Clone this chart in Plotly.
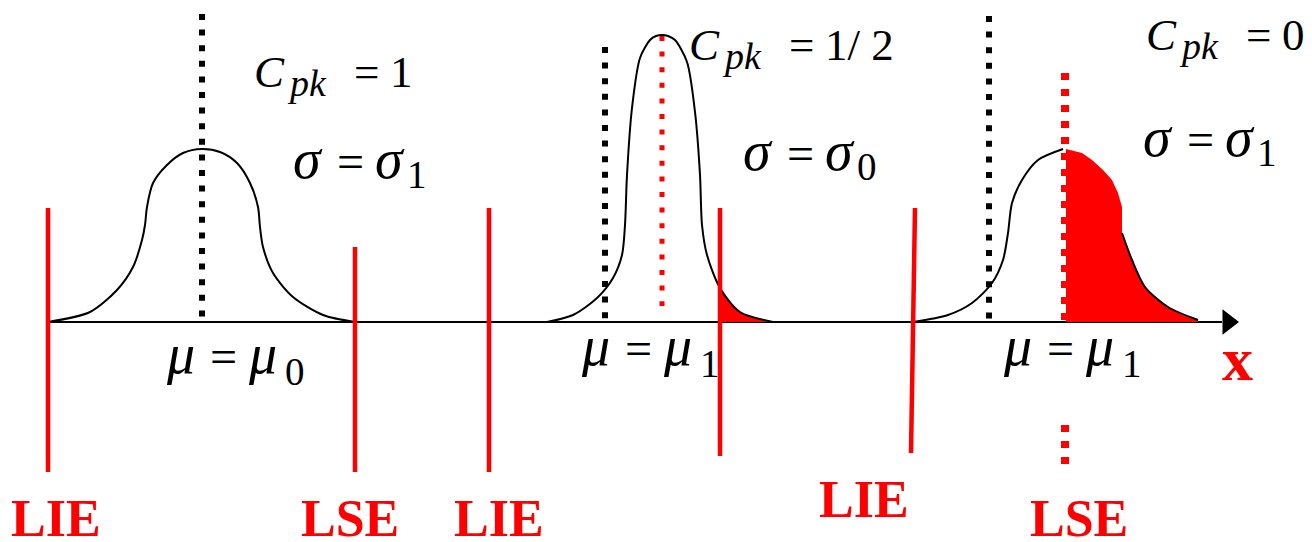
import plotly.graph_objects as go

# ---------------- data (in page units of the sketch) ----------------
AXIS_Y = 322
AXIS_X = [48, 1222]
ARROW_X = 1228

# curve 1 (mu = mu0, sigma = sigma1): offsets from centre / height above axis
C1_CENTER = 202
C1_DX = [-154, -112, -85, -69, -60, -57, -55, -49, -35, -19, 0, 18, 35, 48, 56, 58, 61, 71, 91, 121, 153]
C1_H = [0, 10, 32, 55, 82, 97, 115, 139, 157, 169, 173, 170, 159, 139, 115, 95, 75, 49, 25, 7, 0]

# curve 2 (mu = mu1, sigma = sigma0)
C2_CENTER = 662
C2_DX = [-115, -89, -65, -49, -40, -37, -35, -30, -22, -12, -6, 0, 6, 13, 25, 33, 38, 40, 45, 58, 78, 111]
C2_H = [0, 7, 24, 44, 67, 97, 147, 214, 264, 282, 286, 287, 286, 282, 260, 210, 147, 97, 67, 34, 10, 0]
C2_FILL_FROM = 58

# curve 3 (mu = mu1, sigma = sigma1)
C3_CENTER = 1063
C3_DX_LEFT = [-150, -115, -91, -71, -60, -55, -51, -41, -25, 0]
C3_H_LEFT = [0, 7, 19, 39, 62, 89, 119, 142, 162, 173]
C3_DX_RIGHT = [59, 69, 82, 105, 135]
C3_H_RIGHT = [89, 62, 35, 15, 2]
C3_FILL_DX = [3, 19, 29, 40, 49, 55, 59, 59, 64, 69, 82, 95, 105, 120, 135]
C3_FILL_H = [173, 169, 162, 152, 142, 129, 115, 89, 74, 62, 35, 23, 15, 7, 2]

# specification limits (solid red)
SPEC_X_TOP = [48, 355, 489, 720, 915]
SPEC_X_BOT = [48, 355, 489, 720, 911]
SPEC_Y_TOP = [208, 247, 208, 208, 208]
SPEC_Y_BOT = [472, 472, 472, 456, 453]

# means (black dotted)
MEAN_X = [202, 605, 989]
MEAN_Y_TOP = [14, 47, 16]

# shifted mean in case 2 (red dotted)
RED_DOT_X = 662
RED_DOT_Y = [36, 306]

# LSE in case 3 (red dashed)
LSE3_X = 1065
LSE3_SEG1 = [73, 322]
LSE3_SEG2 = [425, 472]

# formula texts: symbol, subscript, right-hand symbol, value
FORMULA_SYM = ["C", "σ", "μ", "C", "σ", "μ", "C", "σ", "μ"]
FORMULA_SUB = ["pk", "1", "0", "pk", "0", "1", "pk", "1", "1"]
FORMULA_RHS_SYM = ["", "σ", "μ", "", "σ", "μ", "", "σ", "μ"]
FORMULA_VALUE = ["1", "", "", "1/ 2", "", "", "0", "", ""]

# formula layout: left x of the symbol, baseline
FORMULA_X = [253, 292, 165, 688, 742, 580, 1145, 1142, 1002]
FORMULA_BASE = [87, 178, 373, 60, 170, 365, 50, 156, 365]

RED_LABELS = ["x", "LIE", "LSE", "LIE", "LIE", "LSE"]
RED_X = [1237, 56, 350, 499, 864, 1079]
RED_BASE = [380, 536, 536, 536, 517, 536]
RED_SIZE = [62, 52, 52, 52, 52, 52]

RED = "#ff0000"
FONT = "Liberation Serif, Times New Roman, serif"

fig = go.Figure()

# axis
fig.add_trace(go.Scatter(x=AXIS_X, y=[AXIS_Y, AXIS_Y], mode="lines",
                         line=dict(color="black", width=2)))

# red filled tails
f2x = [C2_CENTER + d for d in C2_DX if d >= C2_FILL_FROM]
f2y = [AXIS_Y - h for d, h in zip(C2_DX, C2_H) if d >= C2_FILL_FROM]
fig.add_trace(go.Scatter(x=f2x + [f2x[-1], f2x[0]], y=f2y + [AXIS_Y, AXIS_Y],
                         mode="lines", fill="toself", fillcolor=RED,
                         line=dict(width=0, color=RED, shape="spline", smoothing=0.6)))
f3x = [C3_CENTER + d for d in C3_FILL_DX]
f3y = [AXIS_Y - h for h in C3_FILL_H]
fig.add_trace(go.Scatter(x=f3x + [f3x[-1], f3x[0]], y=f3y + [AXIS_Y, AXIS_Y],
                         mode="lines", fill="toself", fillcolor=RED,
                         line=dict(width=0, color=RED)))


def curve(center, dx, h):
    fig.add_trace(go.Scatter(x=[center + d for d in dx], y=[AXIS_Y - v for v in h],
                             mode="lines",
                             line=dict(color="black", width=2, shape="spline", smoothing=0.8)))


curve(C1_CENTER, C1_DX, C1_H)
curve(C2_CENTER, C2_DX, C2_H)
curve(C3_CENTER, C3_DX_LEFT, C3_H_LEFT)
curve(C3_CENTER, C3_DX_RIGHT, C3_H_RIGHT)

# black dotted mean lines
for mx, yt in zip(MEAN_X, MEAN_Y_TOP):
    fig.add_trace(go.Scatter(x=[mx, mx], y=[yt, AXIS_Y - 1], mode="lines",
                             line=dict(color="black", width=6, dash="6px,9.6px")))

# red dotted line (case 2)
fig.add_trace(go.Scatter(x=[RED_DOT_X, RED_DOT_X], y=RED_DOT_Y, mode="lines",
                         line=dict(color=RED, width=5, dash="5px,10.6px")))

# red dashed LSE (case 3)
for seg in (LSE3_SEG1, LSE3_SEG2):
    fig.add_trace(go.Scatter(x=[LSE3_X, LSE3_X], y=seg, mode="lines",
                             line=dict(color=RED, width=8, dash="7px,9px")))

# solid red spec lines
for xt, xb, yt, yb in zip(SPEC_X_TOP, SPEC_X_BOT, SPEC_Y_TOP, SPEC_Y_BOT):
    fig.add_trace(go.Scatter(x=[xt, xb], y=[yt, yb], mode="lines",
                             line=dict(color=RED, width=4.5)))

# arrow head
fig.add_trace(go.Scatter(x=[ARROW_X], y=[AXIS_Y], mode="markers",
                         marker=dict(symbol="triangle-right", size=22, color="black",
                                     line=dict(width=0))))


def text(t, x, base, size, color="black", anchor="left"):
    # place a single-line text by its baseline
    fig.add_annotation(x=x, y=base - 0.3375 * size, text=t, showarrow=False,
                       xanchor=anchor, yanchor="middle", borderpad=0,
                       font=dict(family=FONT, size=size, color=color))


for sym, sub, rsym, val, x0, b in zip(FORMULA_SYM, FORMULA_SUB, FORMULA_RHS_SYM,
                                      FORMULA_VALUE, FORMULA_X, FORMULA_BASE):
    if sym == "C":
        text("<i>C</i>", x0, b, 45)
        text("<i>" + sub + "</i>", x0 + 33, b + 9, 38)
        text("=", x0 + 100, b, 45)
        text(val, x0 + 136, b, 45)
    else:
        text("<i>" + sym + "</i>", x0, b, 56)
        text("=", x0 + 44, b, 48)
        text("<i>" + rsym + "</i>", x0 + 82, b, 56)
        text(sub, x0 + (114 if sym == "σ" else 119), b + (10 if sym == "σ" else 12), 39)

for t, x, b, s in zip(RED_LABELS, RED_X, RED_BASE, RED_SIZE):
    text("<b>" + t + "</b>", x, b, s, color=RED, anchor="center")

# the page body has an 8px margin; shift the ranges so that data units equal page pixels
fig.update_layout(width=1312, height=542, margin=dict(l=0, r=0, t=0, b=0),
                  paper_bgcolor="white", plot_bgcolor="white", showlegend=False,
                  xaxis=dict(range=[8, 1320], visible=False, fixedrange=True),
                  yaxis=dict(range=[550, 8], visible=False, fixedrange=True))

fig.write_html("out.html")
